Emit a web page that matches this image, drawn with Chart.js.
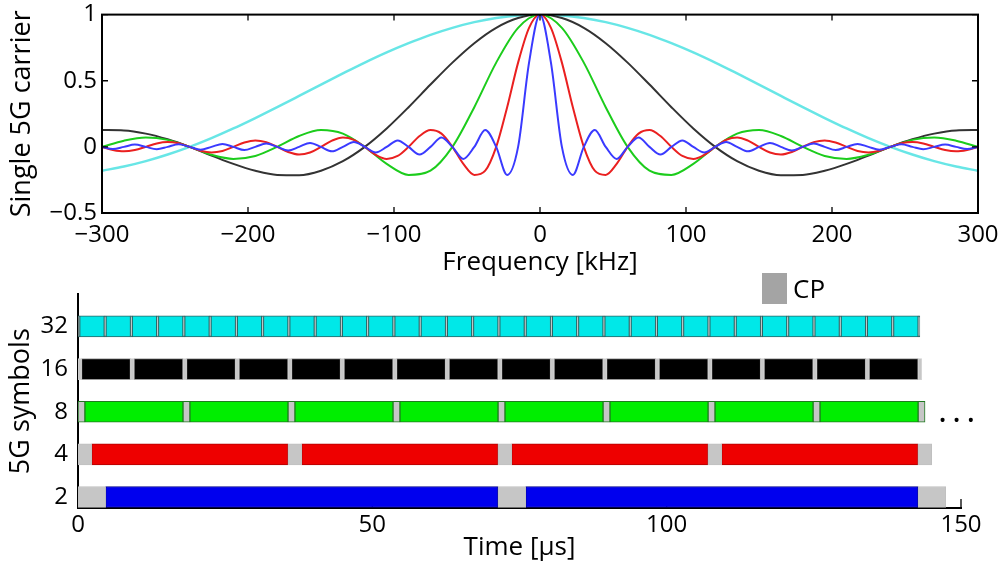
<!DOCTYPE html>
<html lang="en">
<head>
<meta charset="UTF-8" />
<title>5G carrier spectra and symbol timing</title>
<script src="https://cdn.jsdelivr.net/npm/chart.js"></script>
<style>
  body { margin: 0; background: #fff; font-family: 'Open Sans', sans-serif; }
  .figure { position: relative; width: 1000px; height: 563px; overflow: hidden; }
  #spectrum { position: absolute; left: 0; top: 0; }
  #symbols { position: absolute; left: 0; top: 270px; }
  .cp-key { position: absolute; left: 762px; top: 273px; width: 25px; height: 31px; background: #a4a4a4; }
  .cp-text { position: absolute; left: 793px; top: 271px; font-size: 26px; line-height: 34px; color: #000; }
  .more { position: absolute; left: 939px; top: 407px; font-size: 19px; letter-spacing: 1px; color: #000; }
</style>
</head>
<body>
<div class="figure">
  <canvas id="spectrum" width="1000" height="280"></canvas>
  <canvas id="symbols" width="1000" height="293"></canvas>
  <div class="cp-key"></div>
  <div class="cp-text">CP</div>
  <div class="more">• • •</div>
</div>
<script>
// ---- top: single carrier spectra (kHz) ----
const freqFine = [-300,-292.5,-285,-277.5,-270,-262.5,-255,-247.5,-240,-232.5,
  -225,-217.5,-210,-202.5,-195,-187.5,-180,-172.5,-165,-157.5,
  -150,-142.5,-135,-127.5,-120,-112.5,-105,-97.5,-90,-82.5,
  -75,-67.5,-60,-52.5,-45,-37.5,-30,-22.5,-15,-7.5,
  0,
  7.5,15,22.5,30,37.5,45,52.5,60,67.5,75,
  82.5,90,97.5,105,112.5,120,127.5,135,142.5,150,
  157.5,165,172.5,180,187.5,195,202.5,210,217.5,225,
  232.5,240,247.5,255,262.5,270,277.5,285,292.5,300];

const freqCoarse = [-300,-285,-270,-255,-240,-225,-210,-195,-180,-165,-150,-135,-120,-105,-90,-75,-60,-45,-30,-15,
  0,15,30,45,60,75,90,105,120,135,150,165,180,195,210,225,240,255,270,285,300];

// 15 kHz spacing (blue), on freqFine
const carrier15 = [0,-.016,0,.017,0,-.018,0,.019,0,-.021,0,.022,0,-.024,0,.025,0,-.028,0,.030,
  0,-.034,0,.037,0,-.042,0,.049,0,-.058,0,.071,0,-.091,0,.127,0,-.212,0,.637,
  1,
  .637,0,-.212,0,.127,0,-.091,0,.071,0,-.058,0,.049,0,-.042,0,.037,0,-.034,0,
  .030,0,-.028,0,.025,0,-.024,0,.022,0,-.021,0,.019,0,-.018,0,.017,0,-.016,0];

// 30 kHz spacing (red), on freqFine
const carrier30 = [0,-.023,-.034,-.024,0,.026,.037,.027,0,-.029,-.042,-.031,0,.033,.049,.036,0,-.039,-.058,-.043,
  0,.047,.071,.053,0,-.060,-.091,-.069,0,.082,.127,.100,0,-.129,-.212,-.180,0,.300,.637,.900,
  1,
  .900,.637,.300,0,-.180,-.212,-.129,0,.100,.127,.082,0,-.069,-.091,-.060,0,.053,.071,.047,0,
  -.043,-.058,-.039,0,.036,.049,.033,0,-.031,-.042,-.029,0,.027,.037,.026,0,-.024,-.034,-.023,0];

// 60 kHz spacing (green), on freqCoarse
const carrier60 = [0,.047,.071,.053,0,-.060,-.091,-.069,0,.082,.127,.100,0,-.129,-.212,-.180,0,.300,.637,.900,
  1,
  .900,.637,.300,0,-.180,-.212,-.129,0,.100,.127,.082,0,-.069,-.091,-.060,0,.053,.071,.047,0];

// 120 kHz spacing (black), on freqCoarse
const carrier120 = [.127,.124,.100,.057,0,-.065,-.129,-.181,-.212,-.214,-.180,-.108,0,.139,.300,.471,.637,.784,.900,.974,
  1,
  .974,.900,.784,.637,.471,.300,.139,0,-.108,-.180,-.214,-.212,-.181,-.129,-.065,0,.057,.100,.124,.127];

// 240 kHz spacing (cyan), on freqCoarse
const carrier240 = [-.180,-.149,-.108,-.058,0,.066,.139,.218,.300,.385,.471,.555,.637,.714,.784,.847,.900,.943,.974,.994,
  1,
  .994,.974,.943,.900,.847,.784,.714,.637,.555,.471,.385,.300,.218,.139,.066,0,-.058,-.108,-.149,-.180];

// ---- bottom: symbols per slot (durations in microseconds) ----
const rowLabels = ['2', '4', '8', '16', '32'];
const symbolsPerRow = [2, 4, 8, 16, 32];
const cpLength = [4.69, 2.34, 1.17, 0.59, 0.29];
const usefulLength = [66.67, 33.33, 16.67, 8.33, 4.17];

const rowColors = ['#0000ee', '#ee0000', '#00ee00', '#000000', '#00e8e8'];
const rowEdges = ['#000088', '#b00000', '#1f7a1f', '#9a9a9a', '#2a6464'];
const cpEdges = ['#c0c0c0', '#c0c0c0', '#1f7a1f', '#d0d0d0', '#2a6464'];
const cpFill = '#c6c6c6';

Chart.defaults.font.family = "'Open Sans', sans-serif";
Chart.defaults.color = '#000';

const toPoints = (xs, ys) => xs.map((x, i) => ({ x: x, y: ys[i] }));
const minusSign = v => String(v).replace('-', '\u2212');

// box around the plot and inward tick marks on all four sides
const boxFrame = {
  id: 'boxFrame',
  afterDatasetsDraw(chart) {
    const { ctx, chartArea: a, scales: { x, y } } = chart;
    ctx.save();
    ctx.strokeStyle = '#000';
    ctx.lineWidth = 1.3;
    ctx.beginPath();
    x.ticks.forEach(t => {
      const px = x.getPixelForValue(t.value);
      ctx.moveTo(px, a.bottom); ctx.lineTo(px, a.bottom - 6);
      ctx.moveTo(px, a.top); ctx.lineTo(px, a.top + 6);
    });
    y.ticks.forEach(t => {
      const py = y.getPixelForValue(t.value);
      ctx.moveTo(a.left, py); ctx.lineTo(a.left + 6, py);
      ctx.moveTo(a.right, py); ctx.lineTo(a.right - 6, py);
    });
    ctx.stroke();
    ctx.lineWidth = 2;
    ctx.strokeRect(a.left, a.top, a.right - a.left, a.bottom - a.top);
    ctx.restore();
  }
};

new Chart(document.getElementById('spectrum'), {
  type: 'line',
  data: {
    datasets: [
      { label: '15 kHz', data: toPoints(freqFine, carrier15), borderColor: '#3a3aff' },
      { label: '30 kHz', data: toPoints(freqFine, carrier30), borderColor: '#ea2020' },
      { label: '60 kHz', data: toPoints(freqCoarse, carrier60), borderColor: '#1ccc1c' },
      { label: '120 kHz', data: toPoints(freqCoarse, carrier120), borderColor: '#333333' },
      { label: '240 kHz', data: toPoints(freqCoarse, carrier240), borderColor: 'rgba(40,220,220,0.7)', borderWidth: 2.5 }
    ]
  },
  options: {
    responsive: false,
    animation: false,
    layout: { padding: { top: 10, right: 22, left: 0, bottom: 0 } },
    elements: {
      point: { radius: 0 },
      line: { borderWidth: 2, cubicInterpolationMode: 'monotone' }
    },
    plugins: { legend: { display: false }, tooltip: { enabled: false } },
    scales: {
      x: {
        type: 'linear', min: -300, max: 300,
        grid: { display: false, drawTicks: false }, border: { display: false },
        ticks: { stepSize: 100, padding: 8, maxRotation: 0, font: { size: 24 }, callback: minusSign },
        title: { display: true, text: 'Frequency [kHz]', font: { size: 26 }, padding: { top: 0, bottom: 2 } },
        afterFit: s => { s.height = 67; s.paddingLeft = 0; s.paddingRight = 0; }
      },
      y: {
        min: -0.5, max: 1,
        grid: { display: false, drawTicks: false }, border: { display: false },
        ticks: { stepSize: 0.5, padding: 5, font: { size: 24, lineHeight: 0.8 }, callback: minusSign },
        title: { display: true, text: 'Single 5G carrier', font: { size: 27 }, padding: { top: 6, bottom: 0 } },
        afterFit: s => { s.width = 102; }
      }
    }
  },
  plugins: [boxFrame]
});

// symbol and cyclic prefix segments for every row
const barSets = [];
rowLabels.forEach((lab, r) => {
  const cps = [], syms = [];
  let t = 0;
  for (let k = 0; k < symbolsPerRow[r]; k++) {
    cps.push({ x: [t, t + cpLength[r]], y: r });
    t += cpLength[r];
    syms.push({ x: [t, t + usefulLength[r]], y: r });
    t += usefulLength[r];
  }
  cps.push({ x: [t, t + cpLength[r]], y: r }); // CP of the next slot
  barSets.push({ label: lab + ' CP', data: cps, backgroundColor: cpFill, borderColor: cpEdges[r] });
  barSets.push({ label: lab + ' symbols', data: syms, backgroundColor: rowColors[r], borderColor: rowEdges[r] });
});
barSets.forEach(ds => Object.assign(ds, { borderWidth: 1, borderSkipped: false, barThickness: 21, grouped: false }));

// inward x ticks, drawn under the bars
const timeTicks = {
  id: 'timeTicks',
  beforeDatasetsDraw(chart) {
    const { ctx, chartArea: a, scales: { x } } = chart;
    ctx.save();
    ctx.strokeStyle = '#000';
    ctx.lineWidth = 1.3;
    ctx.beginPath();
    x.ticks.forEach(t => {
      const px = x.getPixelForValue(t.value);
      ctx.moveTo(px, a.bottom); ctx.lineTo(px, a.bottom - 9);
    });
    ctx.stroke();
    ctx.restore();
  }
};

new Chart(document.getElementById('symbols'), {
  type: 'bar',
  data: { datasets: barSets },
  options: {
    indexAxis: 'y',
    responsive: false,
    animation: false,
    layout: { padding: { top: 24, right: 39, left: 0, bottom: 0 } },
    plugins: { legend: { display: false }, tooltip: { enabled: false } },
    scales: {
      x: {
        type: 'linear', min: 0, max: 150,
        grid: { display: false, drawTicks: false },
        border: { display: true, color: '#000', width: 2 },
        ticks: { stepSize: 50, padding: 3, maxRotation: 0, font: { size: 24 } },
        title: { display: true, text: 'Time [μs]', font: { size: 26 }, padding: { top: 0, bottom: 0 } },
        afterFit: s => { s.height = 55; s.paddingLeft = 0; s.paddingRight = 0; }
      },
      y: {
        type: 'linear', min: -0.257, max: 4.75, offset: false,
        grid: { display: false, drawTicks: false },
        border: { display: true, color: '#000', width: 2 },
        afterBuildTicks: s => { s.ticks = rowLabels.map((_, i) => ({ value: i })); },
        ticks: { padding: 10, font: { size: 24 }, callback: v => rowLabels[v] },
        title: { display: true, text: '5G symbols', font: { size: 27 }, padding: { top: 5, bottom: 0 } },
        afterFit: s => { s.width = 78; }
      }
    }
  },
  plugins: [timeTicks]
});
</script>
</body>
</html>
